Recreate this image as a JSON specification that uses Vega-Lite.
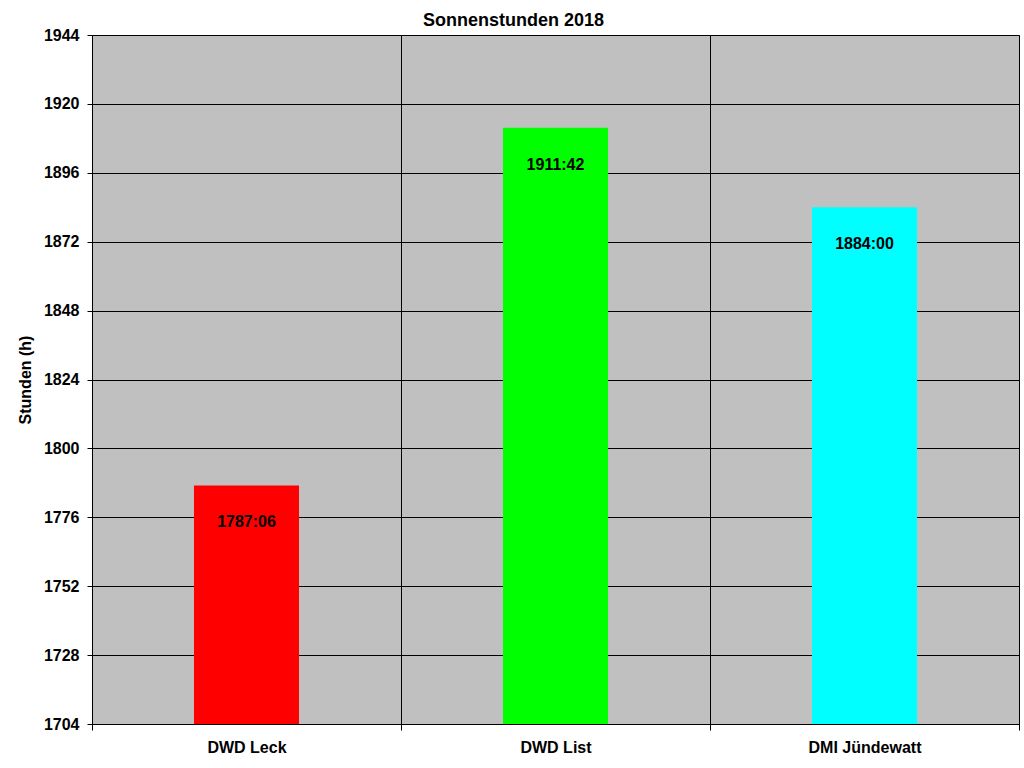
{
  "$schema": "https://vega.github.io/schema/vega-lite/v6.json",
  "autosize": {"type": "none"},
  "padding": {"left": 92, "top": 35, "right": 5, "bottom": 44},
  "width": 927,
  "height": 689,
  "background": "white",
  "title": {
    "text": "Sonnenstunden 2018",
    "font": "Liberation Sans",
    "fontSize": 18,
    "fontWeight": "bold",
    "color": "black",
    "anchor": "middle",
    "dx": -42,
    "offset": -3
  },
  "data": {
    "values": [
      {"station": "DWD Leck", "stunden": 1787.1, "label": "1787:06", "farbe": "#FF0000"},
      {"station": "DWD List", "stunden": 1911.7, "label": "1911:42", "farbe": "#00FF00"},
      {"station": "DMI Jündewatt", "stunden": 1884.0, "label": "1884:00", "farbe": "#00FFFF"}
    ]
  },
  "encoding": {
    "x": {
      "field": "station",
      "type": "nominal",
      "sort": null,
      "scale": {"paddingInner": 0, "paddingOuter": 0},
      "axis": {
        "title": null,
        "labelAngle": 0,
        "tickBand": "extent",
        "grid": true,
        "gridColor": "black",
        "gridOpacity": 1,
        "tickColor": "black",
        "tickSize": 6,
        "domainColor": "black",
        "labelFont": "Liberation Sans",
        "labelFontSize": 16,
        "labelFontWeight": "bold",
        "labelColor": "black",
        "labelPadding": 9
      }
    },
    "y": {
      "field": "stunden",
      "type": "quantitative",
      "scale": {"domain": [1704, 1944], "nice": false, "zero": false},
      "axis": {
        "title": "Stunden (h)",
        "titleFont": "Liberation Sans",
        "titleFontSize": 16,
        "titleFontWeight": "bold",
        "titleColor": "black",
        "titlePadding": 10,
        "format": "d",
        "values": [1704, 1728, 1752, 1776, 1800, 1824, 1848, 1872, 1896, 1920, 1944],
        "grid": true,
        "gridColor": "black",
        "gridOpacity": 1,
        "tickColor": "black",
        "tickSize": 5,
        "domainColor": "black",
        "labelFont": "Liberation Sans",
        "labelFontSize": 16,
        "labelFontWeight": "bold",
        "labelColor": "black",
        "labelPadding": 8
      }
    }
  },
  "layer": [
    {
      "mark": {"type": "bar", "width": {"band": 0.34}, "clip": true},
      "encoding": {
        "y2": {"datum": 1704},
        "color": {"field": "farbe", "type": "nominal", "scale": null}
      }
    },
    {
      "mark": {
        "type": "text",
        "baseline": "middle",
        "dy": 37,
        "font": "Liberation Sans",
        "fontSize": 16,
        "fontWeight": "bold",
        "color": "black"
      },
      "encoding": {
        "text": {"field": "label"}
      }
    }
  ],
  "config": {
    "view": {"fill": "#C0C0C0", "stroke": "#808080", "strokeWidth": 1}
  }
}
